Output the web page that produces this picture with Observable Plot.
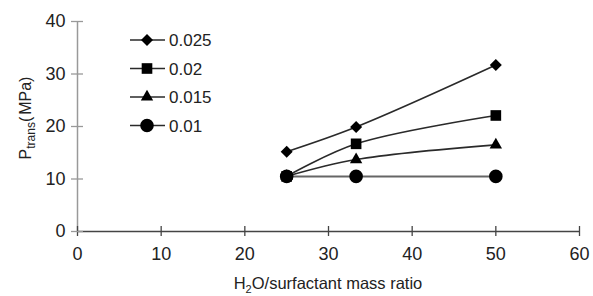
<!DOCTYPE html>
<html>
<head>
<meta charset="utf-8">
<script src="https://cdn.jsdelivr.net/npm/d3@7"></script>
<script src="https://cdn.jsdelivr.net/npm/@observablehq/plot@0.6"></script>
<style>
  html, body { margin: 0; padding: 0; background: #fff; }
  #chart { position: relative; width: 593px; height: 296px; }
  svg { font-family: "Liberation Sans", Arial, sans-serif; }
</style>
</head>
<body>
<div id="chart"></div>
<script>
// ---- data ----
const ratios = [25, 33.3, 50];
const seriesNames = ["0.025", "0.02", "0.015", "0.01"];
const p0025 = [15.2, 19.9, 31.7];
const p0020 = [10.5, 16.7, 22.1];
const p0015 = [10.5, 13.7, 16.5];
const p0010 = [10.5, 10.5, 10.5];
const xTicks = [0, 10, 20, 30, 40, 50, 60];
const yTicks = [0, 10, 20, 30, 40];
const symbols = ["diamond2", "square", "triangle", "circle"];
const symbolR = [5.4, 6.0, 4.6, 6.8];

const seriesValues = [p0025, p0020, p0015, p0010];
const rows = [];
seriesNames.forEach((name, i) => {
  ratios.forEach((r, j) => rows.push({series: name, idx: i, x: r, y: seriesValues[i][j]}));
});

const marks = [
  // axes lines
  Plot.ruleX([0], {y1: 0, y2: 40, stroke: "#999", strokeWidth: 1.5}),
  Plot.ruleY([0], {x1: 0, x2: 60, stroke: "#444", strokeWidth: 1.3}),
  // crossing ticks
  Plot.ruleX(xTicks, {x: d => d, y1: 0, y2: 0, insetTop: -5, insetBottom: -5, stroke: "#444", strokeWidth: 1.3}),
  Plot.ruleY(yTicks, {y: d => d, x1: 0, x2: 0, insetLeft: -6, insetRight: -6, stroke: "#999", strokeWidth: 1.3}),
  Plot.axisX({ticks: xTicks, tickSize: 0, tickPadding: 16, fontSize: 18, color: "#222", label: null}),
  Plot.axisY({ticks: yTicks, tickSize: 0, tickPadding: 12, fontSize: 18, color: "#222", label: null})
];

seriesNames.forEach((name, i) => {
  marks.push(Plot.line(rows.filter(d => d.idx === i), {
    x: "x", y: "y", curve: "catmull-rom",
    stroke: i === 3 ? "#666" : "#2a2a2a", strokeWidth: i === 3 ? 2 : 1.6
  }));
});
[0, 1, 2, 3].forEach(i => {
  marks.push(Plot.dot(rows.filter(d => d.idx === i), {
    x: "x", y: "y", symbol: () => symbols[i], r: symbolR[i], fill: "#000", stroke: "none"
  }));
});

const chart = Plot.plot({
  width: 593,
  height: 296,
  marginLeft: 77,
  marginRight: 14,
  marginTop: 21,
  marginBottom: 65,
  style: {fontFamily: "Liberation Sans, Arial, sans-serif", fontSize: "16px", background: "#fff"},
  x: {domain: [0, 60], axis: null},
  y: {domain: [0, 40], axis: null},
  symbol: {type: "identity"},
  marks
});
document.getElementById("chart").appendChild(chart);

// titles with subscripts
const svg = d3.select(chart);
const xs = chart.scale("x"), ys = chart.scale("y");
const cx = (xs.apply(0) + xs.apply(60)) / 2;
const xt = svg.append("text")
  .attr("x", cx).attr("y", 289).attr("text-anchor", "middle")
  .attr("font-size", 16.5).attr("fill", "#222");
xt.append("tspan").text("H");
xt.append("tspan").attr("font-size", 11).attr("dy", 4).text("2");
xt.append("tspan").attr("dy", -4).text("O/surfactant mass ratio");

const cy = ys.apply(20) - 8;
const yt = svg.append("text")
  .attr("transform", `translate(31,${cy}) rotate(-90)`)
  .attr("text-anchor", "middle")
  .attr("font-size", 16).attr("fill", "#222");
yt.append("tspan").text("P");
yt.append("tspan").attr("font-size", 12).attr("dy", 4).text("trans");
yt.append("tspan").attr("dy", -4).text("(");
yt.append("tspan").attr("dx", 2).text("MPa)");

// legend
const lg = svg.append("g").attr("class", "legend").attr("text-anchor", "start");
const typeMap = {diamond2: d3.symbolDiamond2, square: d3.symbolSquare, triangle: d3.symbolTriangle, circle: d3.symbolCircle};
seriesNames.forEach((name, i) => {
  const y = 40 + i * 28.5;
  lg.append("line").attr("x1", 130).attr("x2", 165).attr("y1", y).attr("y2", y)
    .attr("stroke", "#2a2a2a").attr("stroke-width", 1.5);
  lg.append("path")
    .attr("d", d3.symbol(typeMap[symbols[i]], Math.PI * symbolR[i] * symbolR[i])())
    .attr("transform", `translate(147,${y})`).attr("fill", "#000");
  lg.append("text").attr("x", 169).attr("y", y).attr("dy", "0.36em")
    .attr("text-anchor", "start")
    .attr("font-size", 17).attr("fill", "#222").text(name);
});
</script>
</body>
</html>
